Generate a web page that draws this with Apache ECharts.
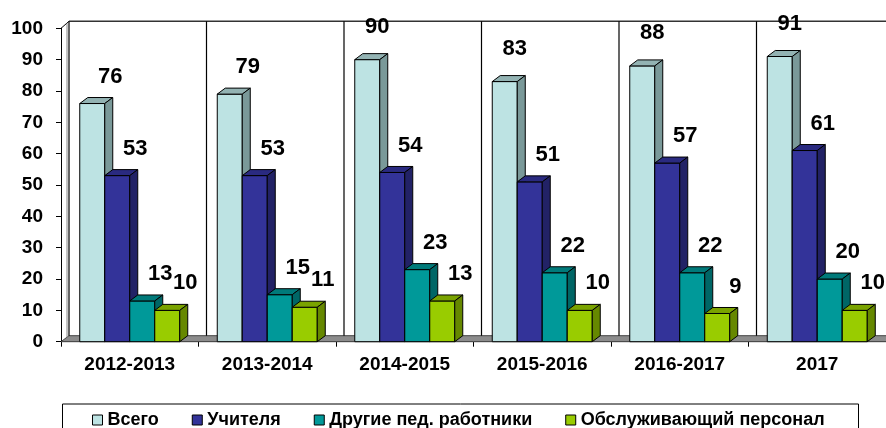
<!DOCTYPE html>
<html>
<head>
<meta charset="utf-8">
<script src="https://cdn.jsdelivr.net/npm/echarts@6/dist/echarts.min.js"></script>
<style>
html, body { margin: 0; padding: 0; background: #fff; }
#chart { width: 886px; height: 428px; }
</style>
</head>
<body>
<div id="chart"></div>
<script>
// data
var years = ['2012-2013', '2013-2014', '2014-2015', '2015-2016', '2016-2017', '2017'];
var seriesNames = ['Всего', 'Учителя', 'Другие пед. работники', 'Обслуживающий персонал'];
var vsego = [76, 79, 90, 83, 88, 91];
var uchitelya = [53, 53, 54, 51, 57, 61];
var drugie = [13, 15, 23, 22, 22, 20];
var obsluzh = [10, 11, 13, 10, 9, 10];
var yMin = 0, yMax = 100, yStep = 10;

// face colours: front, top, side
var faces = [
  ['#bde3e3', '#93b3b3', '#7a9999'],
  ['#333399', '#2a2a80', '#222266'],
  ['#009999', '#007a7a', '#006666'],
  ['#99cc00', '#7aa300', '#668800']
];
var DX = 8, DY = 6;       // depth of the bars
var WX = 8, WY = 7;       // depth of the walls
var FONT = '"Liberation Sans", Arial, sans-serif';

let myChart = echarts.init(document.getElementById('chart'))

function edge(style) {
  return Object.assign({ stroke: '#000', lineWidth: 1, lineJoin: 'round' }, style)
}

// back wall, floor and gridlines
function renderWalls(params, api) {
  var band = api.size([1, 0])[0]
  var c0 = api.coord([0, yMin])
  var top = api.coord([0, yMax])[1]
  var x0 = c0[0] - band / 2
  var y0 = c0[1]
  var xE = x0 + band * years.length
  var kids = []
  kids.push({
    type: 'polygon',
    shape: { points: [[x0, y0], [x0 + WX, y0 - WY + 1], [xE + WX, y0 - WY + 1], [xE, y0]] },
    style: { fill: '#8c8c8c', stroke: '#444', lineWidth: 1 }
  })
  kids.push({ type: 'line', shape: { x1: x0, y1: top, x2: x0 + WX, y2: top - WY }, style: { stroke: '#000', lineWidth: 1 } })
  kids.push({ type: 'line', shape: { x1: x0 + WX - 2, y1: top - WY + 2, x2: x0 + WX - 2, y2: y0 - WY + 3 }, style: { stroke: '#888', lineWidth: 1 } })
  kids.push({ type: 'line', shape: { x1: x0 + WX, y1: top - WY, x2: xE + WX, y2: top - WY }, style: { stroke: '#333', lineWidth: 1.5 } })
  for (var i = 0; i <= years.length - 1; i++) {
    var x = x0 + band * i + WX
    kids.push({ type: 'line', shape: { x1: x, y1: top - WY, x2: x, y2: y0 - WY + 1 }, style: { stroke: '#000', lineWidth: 1.2 } })
  }
  return { type: 'group', children: kids }
}

function barRenderer(k) {
  var f = faces[k]
  return function (params, api) {
    var cat = api.value(0)
    var val = api.value(1)
    var base = api.coord([cat, 0])
    var tp = api.coord([cat, val])
    var band = api.size([1, 0])[0]
    var w = band * 2 / 11
    var xL = base[0] - 2 * w + k * w
    var xR = xL + w
    var y0 = base[1], yT = tp[1]
    // tall bars: label sits a bit further up and less to the right
    var tall = val > 80 ? 1 : 0
    return {
      type: 'group',
      children: [
        { type: 'rect', shape: { x: xL, y: yT, width: w, height: y0 - yT }, style: edge({ fill: f[0] }) },
        { type: 'polygon', shape: { points: [[xL, yT], [xL + DX, yT - DY], [xR + DX, yT - DY], [xR, yT]] }, style: edge({ fill: f[1] }) },
        { type: 'polygon', shape: { points: [[xR, yT], [xR + DX, yT - DY], [xR + DX, y0 - DY], [xR, y0]] }, style: edge({ fill: f[2] }) },
        {
          type: 'text', z2: 100,
          style: {
            text: String(val), x: (xL + xR) / 2 + 18 - tall * 8, y: yT - 27 - tall * 6,
            align: 'center', verticalAlign: 'middle',
            font: 'bold 22px ' + FONT, fill: '#000'
          }
        }
      ]
    }
  }
}

var allValues = [vsego, uchitelya, drugie, obsluzh]
var series = [{
  name: 'walls', type: 'custom', z: 1, silent: true,
  renderItem: renderWalls, data: [[0, 0]], encode: { x: 0, y: 1 }
}]
allValues.forEach(function (vals, k) {
  series.push({
    name: seriesNames[k],
    type: 'custom',
    z: 2,
    renderItem: barRenderer(k),
    itemStyle: { color: faces[k][0], borderColor: '#000', borderWidth: 1 },
    encode: { x: 0, y: 1 },
    data: vals.map(function (v, i) { return [i, v] })
  })
})

let option = {
  animation: false,
  grid: { left: 61, right: 0, top: 28.3, bottom: 86.3 },
  xAxis: {
    type: 'category',
    data: years,
    axisLine: { lineStyle: { color: '#000', width: 1 } },
    axisTick: { show: true, length: 5, lineStyle: { color: '#000' } },
    axisLabel: { color: '#000', fontFamily: FONT, fontWeight: 'bold', fontSize: 19, margin: 14 }
  },
  yAxis: {
    type: 'value',
    min: yMin, max: yMax, interval: yStep,
    axisLine: { show: true, lineStyle: { color: '#000', width: 1 } },
    axisTick: { show: true, length: 5, lineStyle: { color: '#000' } },
    splitLine: { show: false },
    axisLabel: { color: '#000', fontFamily: FONT, fontWeight: 'bold', fontSize: 19, margin: 18 }
  },
  legend: {
    data: seriesNames,
    left: 92, top: 411,
    icon: 'rect',
    itemWidth: 10, itemHeight: 10, itemGap: 33,
    padding: 0,
    itemStyle: { borderColor: '#000', borderWidth: 1 },
    textStyle: { color: '#000', fontFamily: FONT, fontWeight: 'bold', fontSize: 18 }
  },
  graphic: [{
    type: 'rect', left: 60, top: 401.5,
    shape: { width: 796, height: 40 },
    style: { fill: 'none', stroke: '#000', lineWidth: 1 }
  }],
  series: series
}
myChart.setOption(option)
</script>
</body>
</html>
